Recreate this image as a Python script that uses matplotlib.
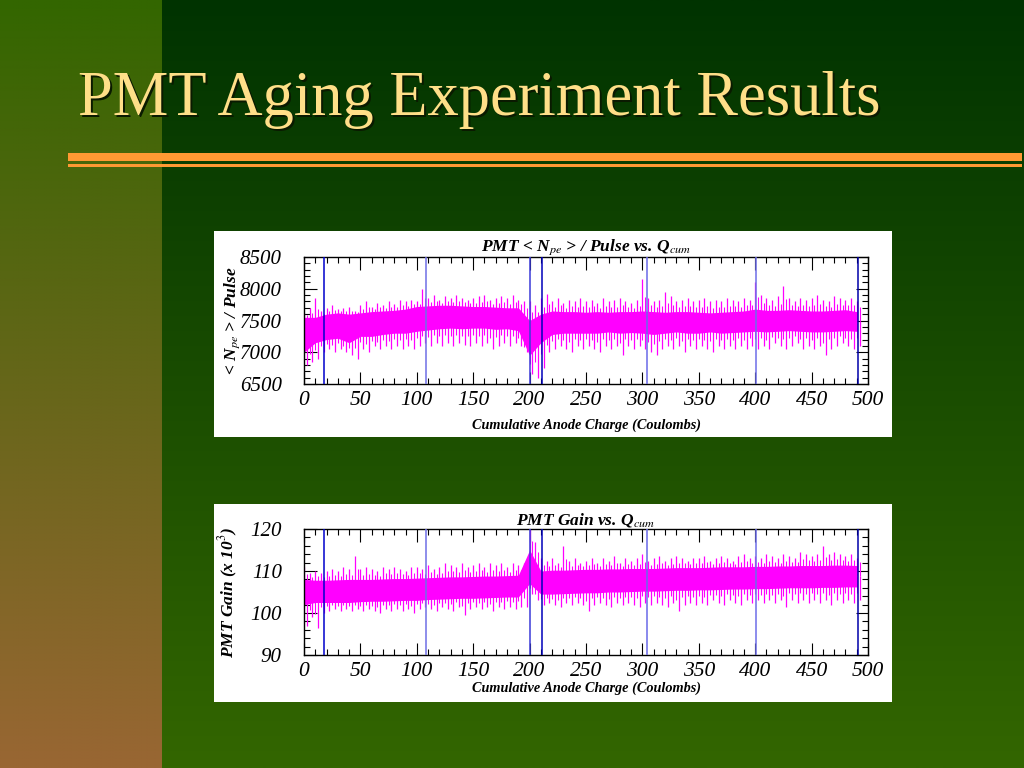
""" PMT aging slide: <Npe>/pulse and gain against cumulative anode charge """

import numpy as np
import matplotlib
matplotlib.use('Agg')
import matplotlib.pyplot as plt
from matplotlib.patches import Rectangle
from matplotlib.ticker import MultipleLocator

plt.rcParams['font.family'] = ['Liberation Serif', 'DejaVu Serif']
plt.rcParams['mathtext.fontset'] = 'stix'

# Cumulative charge at which the core band is read (Coulombs)
core_x = list(range(0, 500, 10))
# Cumulative charge at which the spike extremes are read
spike_x = list(range(0, 495, 5))

# Run boundaries (blue vertical lines)
run_marks = [18, 108, 200, 211, 304, 401, 491]
run_colors = ['#0000cc', '#6f6fe6', '#3b3bd9', '#0000bb', '#6a6ae8', '#6d6de8', '#0000aa']

# Panel 1: <Npe> / pulse
npe_core_lo = [7000, 7150, 7200, 7220, 7150, 7250, 7250, 7280, 7300, 7300,
               7330, 7350, 7370, 7380, 7370, 7380, 7380, 7360, 7370, 7340,
               6950, 7150, 7280, 7300, 7300, 7300, 7300, 7320, 7300, 7310,
               7300, 7280, 7300, 7320, 7300, 7300, 7320, 7300, 7310, 7320,
               7330, 7320, 7330, 7340, 7330, 7320, 7320, 7330, 7340, 7330]
npe_core_hi = [7550, 7550, 7600, 7620, 7600, 7620, 7640, 7650, 7660, 7680,
               7720, 7730, 7740, 7740, 7730, 7720, 7720, 7710, 7700, 7700,
               7500, 7600, 7650, 7640, 7640, 7630, 7640, 7630, 7640, 7640,
               7650, 7640, 7630, 7640, 7640, 7630, 7620, 7630, 7640, 7650,
               7680, 7660, 7660, 7670, 7660, 7650, 7650, 7660, 7670, 7640]
npe_spike_hi = [7620, 7700, 7850, 7650, 7700, 7750, 7680, 7700, 7720, 7650,
                7750, 7800, 7720, 7780, 7750, 7800, 7760, 7820, 7800, 7830,
                7800, 8000, 7850, 7900, 7820, 7880, 7850, 7900, 7860, 7820,
                7850, 7880, 7900, 7820, 7860, 7880, 7850, 7900, 7830, 7800,
                7800, 7750, 7850, 7920, 7800, 7850, 7780, 7820, 7800, 7850,
                7800, 7830, 7780, 7850, 7800, 7820, 7860, 7800, 7780, 7820,
                8150, 7850, 7800, 7830, 7950, 7880, 7800, 7820, 7850, 7800,
                7820, 7850, 7800, 7830, 7800, 7850, 7820, 7800, 7850, 7830,
                8100, 7900, 7850, 7820, 7880, 8050, 7850, 7800, 7850, 7830,
                7850, 7900, 7820, 7800, 7880, 7850, 7820, 7860, 7800]
npe_spike_lo = [6800, 6850, 6900, 7000, 7050, 7000, 7050, 7000, 6950, 6900,
                7050, 7000, 7100, 7050, 7100, 7050, 7100, 7050, 7100, 7050,
                7100, 7150, 7100, 7150, 7100, 7150, 7100, 7150, 7120, 7100,
                7150, 7100, 7150, 7050, 7100, 7150, 7100, 7150, 7100, 7000,
                6650, 6600, 6750, 7000, 7050, 7100, 7050, 7000, 7100, 7050,
                7100, 7050, 7000, 7100, 7050, 7100, 6950, 7100, 7050, 7100,
                7050, 7000, 6950, 7050, 7100, 7050, 7100, 7000, 7100, 7050,
                7100, 7050, 7000, 7100, 7050, 7100, 7050, 7100, 7050, 7100,
                7050, 7100, 7050, 7150, 7100, 7050, 7100, 7150, 7050, 7100,
                7050, 7100, 6950, 7050, 7100, 7150, 7100, 7050, 7100]

# Panel 2: gain (x 10^3)
gain_core_lo = [102, 102.5, 102.5, 102.5, 102.5, 102.7, 102.8, 102.8, 102.9, 103,
                103, 103.2, 103.3, 103.4, 103.5, 103.5, 103.6, 103.7, 103.8, 103.8,
                107, 104.5, 104.5, 104.6, 104.7, 104.8, 104.8, 105, 105, 105.1,
                105.2, 105.2, 105.3, 105.4, 105.4, 105.5, 105.5, 105.6, 105.7, 105.7,
                105.8, 105.8, 105.9, 106, 106, 106, 106.1, 106.1, 106.2, 106.2]
gain_core_hi = [108, 107.8, 107.8, 107.9, 108, 108, 108, 108.1, 108.2, 108.2,
                108.3, 108.4, 108.5, 108.6, 108.6, 108.7, 108.8, 108.8, 108.9, 109,
                115, 110, 110.2, 110.2, 110.3, 110.4, 110.4, 110.5, 110.5, 110.6,
                110.6, 110.6, 110.7, 110.8, 110.8, 110.8, 110.9, 111, 111, 111,
                111.1, 111.1, 111.2, 111.2, 111.3, 111.3, 111.3, 111.4, 111.4, 111.3]
gain_spike_hi = [111, 109.5, 110, 109.5, 110, 110.5, 110, 111, 110.5, 113.5,
                 110.5, 111, 110.5, 110, 111, 110.5, 111, 110.5, 110, 111,
                 111, 110.5, 111.5, 110.5, 111, 112, 111.5, 111, 112, 111,
                 111.5, 112, 111, 112, 111.5, 112, 111, 112, 111.5, 112,
                 120, 117, 113, 112.5, 113, 112, 116, 112.5, 113, 112,
                 112.5, 113, 112, 113, 112.5, 113.5, 112, 113, 112.5, 113,
                 114, 112.5, 113, 113.5, 112.5, 113, 113.5, 113, 112.5, 113,
                 113, 113.5, 112.5, 113, 113.5, 113, 112.5, 113.5, 114, 113,
                 113.5, 113, 114, 113.5, 113, 114, 113.5, 113, 114.5, 114,
                 113.5, 114, 116, 114, 114.5, 114, 113.5, 114, 113]
gain_spike_lo = [97, 99, 96.5, 100, 100.5, 101, 100.5, 101, 100.5, 101,
                 100.5, 101, 100.5, 100, 101, 100.5, 101, 100.5, 101, 100,
                 101, 101.5, 101, 100.5, 101.5, 101, 100.5, 101.5, 99.5, 101,
                 101.5, 101, 101.5, 100.5, 101.5, 101, 101.5, 101, 101.5, 101.5,
                 104.5, 103, 102, 102.5, 102, 101.5, 102.5, 102, 102.5, 102,
                 100.5, 102, 102.5, 102, 101.5, 102.5, 102, 102.5, 102, 101.5,
                 102.5, 102, 102.5, 102, 101.5, 102.5, 100.5, 102, 102.5, 102,
                 102.5, 102, 103, 102.5, 102, 103, 102.5, 102, 103, 102.5,
                 103, 102.5, 103, 102.5, 103, 101.5, 103, 102.5, 103, 102.5,
                 103, 102.5, 103, 102, 103, 102.5, 103, 102.5, 103]

W, H = 1024, 768
MAGENTA = '#ff00ff'


def px_axes(fig, x0, y0, x1, y1):
    """ Axes from pixel box (top-left origin) """
    return fig.add_axes([x0 / W, 1 - y1 / H, (x1 - x0) / W, (y1 - y0) / H])


def gradient(top, bottom, n=256):
    """ Vertical colour gradient as an image column """
    t = np.linspace(0, 1, n)[:, None]
    top = np.array(matplotlib.colors.to_rgb(top))
    bottom = np.array(matplotlib.colors.to_rgb(bottom))
    return (top * (1 - t) + bottom * t)[:, None, :]


def draw_panel(ax, core_lo, core_hi, spike_lo, spike_hi, ylim, ymajor, yminor):
    """ Draw one noisy trace panel """
    core_lo = np.array(core_lo, dtype=float)
    core_hi = np.array(core_hi, dtype=float)
    ax.fill_between(core_x, core_lo, core_hi, color=MAGENTA, lw=0, zorder=2)

    sx = np.array(spike_x, dtype=float)
    hi = np.array(spike_hi, dtype=float)
    lo = np.array(spike_lo, dtype=float)
    top = np.interp(sx, core_x, core_hi)
    bot = np.interp(sx, core_x, core_lo)
    mid = (top + bot) / 2
    # full-length spikes: up at the read point, down half a step later
    ax.vlines(sx, mid, hi, color=MAGENTA, lw=0.9, zorder=2)
    ax.vlines(sx + 2.5, lo, mid, color=MAGENTA, lw=0.9, zorder=2)
    # shorter spikes in between to roughen the band edges
    ax.vlines(sx + 2.5, mid, top + 0.45 * (hi - top), color=MAGENTA, lw=0.8, zorder=2)
    ax.vlines(sx, bot - 0.45 * (bot - lo), mid, color=MAGENTA, lw=0.8, zorder=2)

    for xm, c in zip(run_marks, run_colors):
        ax.axvline(xm, color=c, lw=1.1, zorder=3)

    ax.set_xlim(0, 500)
    ax.set_ylim(*ylim)
    ax.xaxis.set_major_locator(MultipleLocator(50))
    ax.xaxis.set_minor_locator(MultipleLocator(10))
    ax.yaxis.set_major_locator(MultipleLocator(ymajor))
    ax.yaxis.set_minor_locator(MultipleLocator(yminor))
    ax.tick_params(which='both', direction='in', top=True, right=True, width=0.8)
    ax.tick_params(which='major', length=9)
    ax.tick_params(which='minor', length=4.5)
    ax.tick_params(axis='x', pad=5, labelsize=15.5)
    ax.tick_params(axis='y', pad=16, labelsize=15)
    for lab in ax.get_xticklabels() + ax.get_yticklabels():
        lab.set_fontstyle('italic')
    for s in ax.spines.values():
        s.set_linewidth(1.0)
    ax.set_xlabel('Cumulative Anode Charge (Coulombs)', fontsize=10.3,
                  fontweight='bold', fontstyle='italic')


fig = plt.figure(figsize=(W / 100, H / 100), dpi=100)

# Slide background
bg = fig.add_axes([0, 0, 1, 1])
bg.set_xlim(0, W)
bg.set_ylim(H, 0)
bg.axis('off')
bg.imshow(gradient('#336600', '#996633'), extent=[0, 162, H, 0], aspect='auto')
bg.imshow(gradient('#003300', '#336600'), extent=[162, W, H, 0], aspect='auto')

# Title with drop shadow
title = 'PMT Aging Experiment Results'
bg.text(80, 117, title, fontsize=45, color='#0a1a00', va='baseline')
bg.text(78, 115, title, fontsize=45, color='#ffdf88', va='baseline')

# Orange rules under the title
bg.add_patch(Rectangle((68, 153), 954, 8, color='#ff9933', lw=0))
bg.add_patch(Rectangle((68, 164), 954, 3, color='#ff9933', lw=0))

# White panels behind the plots
bg.add_patch(Rectangle((214, 231), 678, 206, color='white', lw=0))
bg.add_patch(Rectangle((214, 504), 678, 198, color='white', lw=0))

ax1 = px_axes(fig, 304, 257, 868, 384)
draw_panel(ax1, npe_core_lo, npe_core_hi, npe_spike_lo, npe_spike_hi,
           (6500, 8500), 500, 100)
ax1.set_title(r'PMT < N$_{pe}$ > / Pulse vs. Q$_{cum}$', fontsize=12.5,
              fontweight='bold', fontstyle='italic', pad=3)
ax1.set_ylabel(r'< N$_{pe}$ > / Pulse', fontsize=12.5, fontweight='bold',
               fontstyle='italic')
ax1.yaxis.set_label_coords(-0.11, 0.5)
ax1.xaxis.set_label_coords(0.5, -0.27)

ax2 = px_axes(fig, 304, 529, 868, 655)
draw_panel(ax2, gain_core_lo, gain_core_hi, gain_spike_lo, gain_spike_hi,
           (90, 120), 10, 2)
ax2.set_title(r'PMT Gain vs. Q$_{cum}$', fontsize=12.5,
              fontweight='bold', fontstyle='italic', pad=3)
ax2.set_ylabel(r'PMT Gain (x 10$^{3}$)', fontsize=12.5, fontweight='bold',
               fontstyle='italic')
ax2.yaxis.set_label_coords(-0.113, 0.5)
ax2.xaxis.set_label_coords(0.5, -0.21)

fig.savefig('out.png', dpi=100)
